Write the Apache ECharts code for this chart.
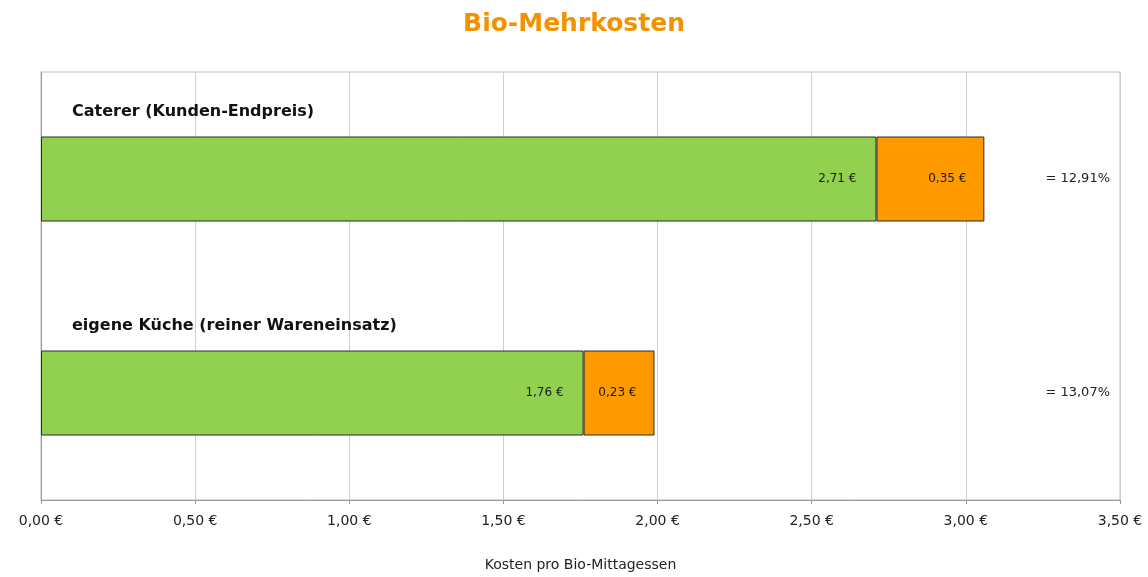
<!DOCTYPE html>
<html>
<head>
<meta charset="utf-8">
<script src="https://cdn.jsdelivr.net/npm/echarts@6/dist/echarts.min.js"></script>
<style>
  html, body { margin: 0; padding: 0; background: #fff; }
  #chart { width: 1148px; height: 577px; }
</style>
</head>
<body>
<div id="chart"></div>
<script>
// data
const categories = ['Caterer (Kunden-Endpreis)', 'eigene Küche (reiner Wareneinsatz)'];
const baseCost = [2.71, 1.76];      // green part
const extraCost = [0.35, 0.23];     // orange part (Bio-Mehrkosten)
const percentLabels = ['= 12,91%', '= 13,07%'];
const xTicks = [0, 0.5, 1, 1.5, 2, 2.5, 3, 3.5];

const font = '"DejaVu Sans", Verdana, sans-serif';
const euro = v => v.toFixed(2).replace('.', ',') + ' €';

const chart = echarts.init(document.getElementById('chart'));

chart.setOption({
  animation: false,
  title: {
    text: 'Bio-Mehrkosten',
    left: 'center',
    top: 7,
    textStyle: { fontFamily: font, fontSize: 25, fontWeight: 'bold', color: '#F39200' }
  },
  grid: {
    left: 41, right: 28, top: 72, bottom: 75,
    show: true, borderColor: '#bdbdbd', borderWidth: 1
  },
  xAxis: {
    type: 'value',
    min: xTicks[0],
    max: xTicks[xTicks.length - 1],
    interval: 0.5,
    name: 'Kosten pro Bio-Mittagessen',
    nameLocation: 'middle',
    nameGap: 58,
    nameTextStyle: { fontFamily: font, fontSize: 14, color: '#222' },
    axisLine: { show: true, lineStyle: { color: '#999' } },
    axisTick: { show: true, length: 4, lineStyle: { color: '#999' } },
    axisLabel: { fontFamily: font, fontSize: 14, color: '#222', margin: 14, formatter: v => euro(v) },
    splitLine: { show: true, lineStyle: { color: '#d0d0d0' } }
  },
  yAxis: [
    {
      type: 'category',
      inverse: true,
      data: categories,
      axisLine: { show: true, lineStyle: { color: '#999' } },
      axisTick: { show: false },
      axisLabel: {
        inside: true,
        margin: 31,
        align: 'left',
        verticalAlign: 'bottom',
        padding: [0, 0, 59, 0],
        fontFamily: font, fontSize: 16, fontWeight: 'bold', color: '#111'
      }
    },
    {
      type: 'category',
      inverse: true,
      position: 'right',
      data: percentLabels,
      axisLine: { show: false },
      axisTick: { show: false },
      axisLabel: {
        inside: true,
        margin: 10,
        align: 'right',
        fontFamily: font, fontSize: 13, color: '#222'
      }
    }
  ],
  series: [
    {
      name: 'Kosten',
      type: 'bar',
      stack: 'k',
      barWidth: 85,
      data: baseCost,
      itemStyle: { color: '#92D050', borderColor: '#2b2b2b', borderWidth: 1 },
      label: {
        show: true, position: 'insideRight', distance: 20,
        fontFamily: font, fontSize: 12, color: '#1a1a1a',
        formatter: p => euro(p.value)
      }
    },
    {
      name: 'Bio-Mehrkosten',
      type: 'bar',
      stack: 'k',
      barWidth: 85,
      data: extraCost,
      itemStyle: { color: '#FF9900', borderColor: '#2b2b2b', borderWidth: 1 },
      label: {
        show: true, position: 'insideRight', distance: 18,
        fontFamily: font, fontSize: 12, color: '#1a1a1a',
        formatter: p => euro(p.value)
      }
    }
  ]
});
</script>
</body>
</html>
